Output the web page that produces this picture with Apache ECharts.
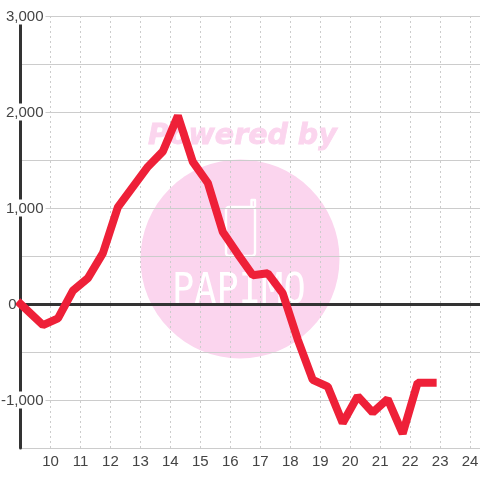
<!DOCTYPE html>
<html><head><meta charset="utf-8">
<script src="https://cdn.jsdelivr.net/npm/echarts@6/dist/echarts.min.js"></script>
<style>html,body{margin:0;padding:0;background:#fff}#c{width:480px;height:480px}</style>
</head><body><div id="c"></div>
<script>
const hours = [9,9.75,10.25,10.75,11.25,11.75,12.25,12.75,13.25,13.75,14.25,14.75,15.25,15.75,16.25,16.75,17.25,17.75,18.25,18.75,19.25,19.75,20.25,20.75,21.25,21.75,22.25,22.75];
const values = [0,-220,-150,140,270,530,1010,1220,1430,1590,1960,1480,1260,750,520,300,320,110,-370,-790,-860,-1240,-960,-1130,-990,-1350,-820,-820];
const yMin=-1500, yMax=3000;
const chart = echarts.init(document.getElementById('c'),null,{renderer:'canvas'});
const font='"Liberation Sans"';
chart.setOption({
 animation:false,
 grid:{left:20.5,right:0,top:16,bottom:32,containLabel:false,outerBoundsMode:'none'},
 graphic:[
  {type:'circle',z:-10,shape:{cx:240,cy:259,r:99.5},style:{fill:'#fbd5ee'}},
  {type:'text',z:-10,x:148,y:122,style:{text:'Powered by',font:'italic bold 28.500px "DejaVu Sans"',fill:'#fbd5ee',stroke:'#fbd5ee',lineWidth:0.8}},
  {type:'rect',z:-9,shape:{x:226,y:207,width:29,height:49,r:3},style:{fill:'none',stroke:'#fff',lineWidth:2.4}},
  {type:'polyline',z:-9,shape:{points:[[251.500,207],[251.500,200],[255,200],[255,207]]},style:{fill:'none',stroke:'#fff',lineWidth:2.4,lineJoin:'round'}},
  {type:'text',z:-9,x:172,y:271,scaleY:1.15,style:{text:'PAPIMO',font:'37px "DejaVu Sans Mono"',fill:'#fff'}}
 ],
 xAxis:{type:'value',min:9,max:24.33,interval:1,
   axisLine:{show:false},axisTick:{show:false},
   axisLabel:{color:'#444',fontFamily:font,fontSize:15,margin:6,showMinLabel:false,showMaxLabel:false},
   splitLine:{show:true,showMinLine:false,showMaxLine:false,lineStyle:{color:'#ccc',type:[2,3],width:1}}},
 yAxis:{type:'value',min:yMin,max:yMax,interval:500,
   axisLine:{show:true,onZero:false,lineStyle:{color:'#333',width:3}},axisTick:{show:false},
   axisLabel:{align:'right',margin:-25,color:'#444',
     formatter:v=>v===0?'{z|0}':(v%1000===0?'{a|'+v.toLocaleString('en-US')+'}':''),
     rich:{
      a:{fontFamily:font,fontSize:15,color:'#444',backgroundColor:'#fff',padding:[2,2,0,2]},
      z:{fontFamily:font,fontSize:15,color:'#444',padding:[2,29,0,0]}
     }},
   splitLine:{show:true,lineStyle:{color:'#ccc',width:1}}},
 series:[
  {type:'line',data:[],z:3,markLine:{silent:true,symbol:'none',label:{show:false},lineStyle:{color:'#333',width:3,type:'solid'},data:[{yAxis:0}]}},
  {type:'line',data:hours.map((h,i)=>[h,values[i]]),showSymbol:false,symbol:'none',smooth:false,
   lineStyle:{color:'#ee2038',width:8,join:'bevel',cap:'square'},z:5}]
});
</script></body></html>
